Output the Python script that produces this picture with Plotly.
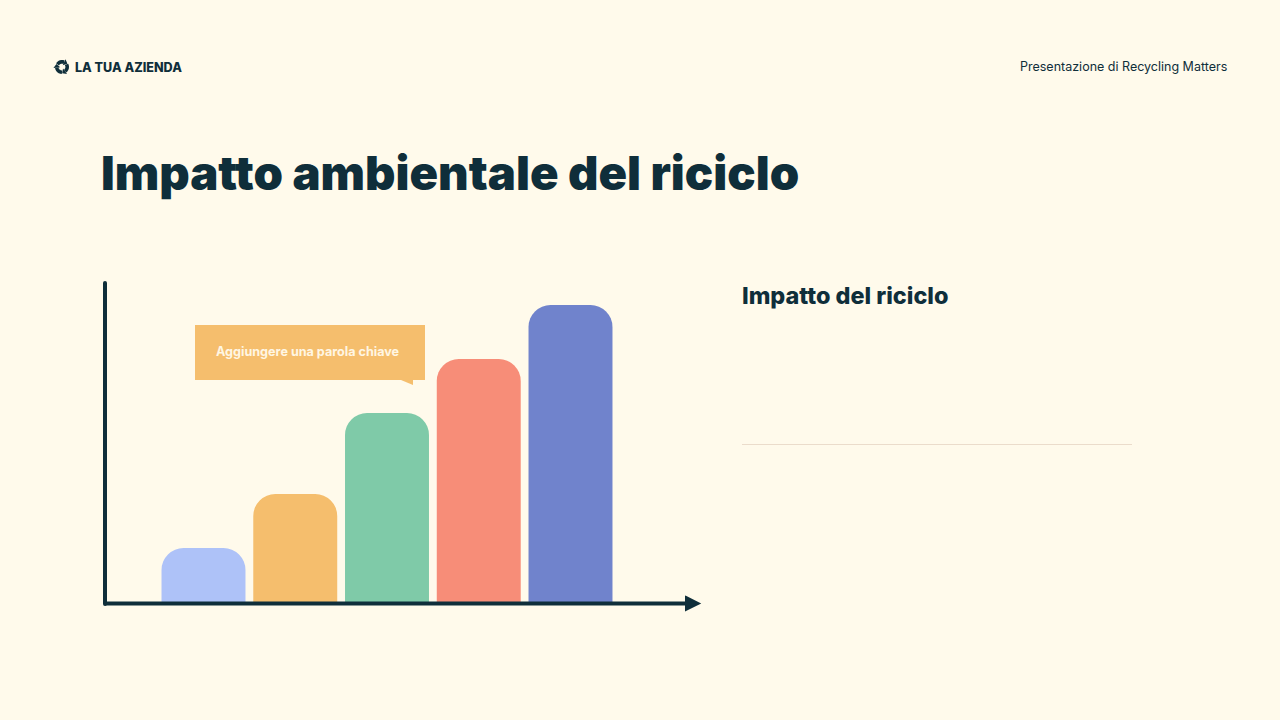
import math
import plotly.graph_objects as go

W, H = 1280, 720
categories = ["A", "B", "C", "D", "E"]
values = [1, 2, 3.5, 4.5, 5.5]
bar_colors = ["#AEC2F8", "#F5BE6D", "#7FCAA8", "#F78D78", "#7083CC"]

BG = "#FFFAEB"
DARK = "#0F2E3A"
ORANGE = "#F5BE6D"

title_text = "Impatto ambientale del riciclo"
brand_text = "LA TUA AZIENDA"
deck_text = "Presentazione di Recycling Matters"
side_heading = "Impatto del riciclo"
callout_text = "Aggiungere una parola chiave"


def px(x):
    return x / W


def py(y):
    return 1 - y / H


# plot area in pixels
L, R, T, B = 103, 700, 281, 602

fig = go.Figure(
    go.Bar(
        x=categories,
        y=values,
        marker=dict(color=bar_colors, line_width=0),
        hoverinfo="skip",
    )
)

fig.update_layout(
    width=W,
    height=H,
    autosize=False,
    paper_bgcolor=BG,
    plot_bgcolor=BG,
    showlegend=False,
    barcornerradius=22,
    bargap=0.085,
    margin=dict(l=0, r=0, t=0, b=0),
    font=dict(family="Inter", color=DARK),
)

pitch = 91.75
first_center = 203.5
fig.update_xaxes(
    domain=[px(L), px(R)],
    range=[(L - first_center) / pitch, (R - first_center) / pitch],
    showgrid=False,
    showticklabels=False,
    ticks="",
    zeroline=False,
    showline=False,
)
unit = 54
fig.update_yaxes(
    domain=[py(B), py(T)],
    range=[0, (B - T) / unit],
    showgrid=False,
    showticklabels=False,
    ticks="",
    zeroline=False,
    showline=False,
)


def poly(points, closed=True):
    body = " L ".join(f"{px(x)} {py(y)}" for x, y in points)
    return "M " + body + (" Z" if closed else "")


def dot(cx, cy, r):
    return dict(type="circle", xref="paper", yref="paper",
                x0=px(cx - r), x1=px(cx + r), y0=py(cy + r), y1=py(cy - r),
                fillcolor=DARK, line_width=0)


shapes = [
    # y axis with rounded ends
    dict(type="line", xref="paper", yref="paper", x0=px(105), x1=px(105), y0=py(283), y1=py(604),
         line=dict(color=DARK, width=4)),
    dot(105, 283, 2),
    dot(105, 604, 2),
    # x axis
    dict(type="line", xref="paper", yref="paper", x0=px(105), x1=px(690), y0=py(603.5), y1=py(603.5),
         line=dict(color=DARK, width=4)),
    # arrow head
    dict(type="path", xref="paper", yref="paper",
         path=poly([(686, 597), (699, 603.5), (686, 610)]),
         fillcolor=DARK, line=dict(color=DARK, width=2)),
    # callout box
    dict(type="rect", xref="paper", yref="paper", x0=px(195), x1=px(425), y0=py(380), y1=py(325),
         fillcolor=ORANGE, line_width=0),
    dict(type="path", xref="paper", yref="paper",
         path=poly([(401, 380), (413, 385), (413, 380)]),
         fillcolor=ORANGE, line_width=0),
    # divider
    dict(type="line", xref="paper", yref="paper", x0=px(742), x1=px(1132), y0=py(444.5), y1=py(444.5),
         line=dict(color="#EBDCCB", width=1)),
]

# logo: three arrow segments chasing round a ring
cx, cy, rad = 62, 67, 5.2
for start in (-150, -30, 90):
    arc = [(cx + rad * math.cos(math.radians(start + s)),
            cy + rad * math.sin(math.radians(start + s))) for s in range(0, 85, 14)]
    shapes.append(dict(type="path", xref="paper", yref="paper", path=poly(arc, closed=False),
                       fillcolor="rgba(0,0,0,0)", line=dict(color=DARK, width=3.6)))
    end = math.radians(start + 84)
    ex, ey = cx + rad * math.cos(end), cy + rad * math.sin(end)
    tx, ty = -math.sin(end), math.cos(end)
    nx, ny = math.cos(end), math.sin(end)
    head = [(ex + 3.4 * nx, ey + 3.4 * ny), (ex + 3.6 * tx, ey + 3.6 * ty), (ex - 3.4 * nx, ey - 3.4 * ny)]
    shapes.append(dict(type="path", xref="paper", yref="paper", path=poly(head),
                       fillcolor=DARK, line_width=0))

fig.update_layout(shapes=shapes)


def label(text, x, y, size, color=DARK, weight=400, anchor="left", family="Inter"):
    fig.add_annotation(
        xref="paper", yref="paper", x=px(x), y=py(y), text=text, showarrow=False,
        xanchor=anchor, yanchor="middle",
        font=dict(family=family, size=size, color=color, weight=weight),
    )


label(title_text, 99, 172, 47.2, weight=900)
label(brand_text, 73, 67, 12.6, weight=800)
label(deck_text, 1229, 66, 12.5, anchor="right", weight=400)
label(side_heading, 740, 295, 23.4, weight=800)
label(callout_text, 308, 351, 12.6, color="#FFF6E3", weight=700, anchor="center")

fig.write_html("out.html", post_script="document.body.style.margin='0';", config={"displayModeBar": False})
